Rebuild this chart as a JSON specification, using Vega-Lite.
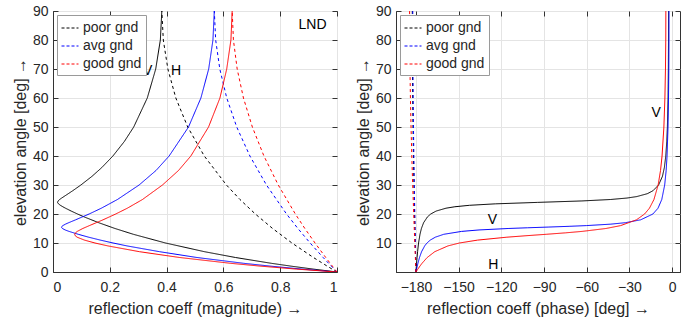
{
  "$schema": "https://vega.github.io/schema/vega-lite/v6.json",
  "background": "white",
  "padding": {"left": 11, "top": 3, "right": 17, "bottom": 0},
  "bounds": "flush",
  "spacing": 59,
  "config": {
    "font": "Liberation Sans, DejaVu Sans",
    "view": {"stroke": "#333333", "strokeWidth": 1},
    "axis": {
      "domainColor": "#333333", "tickColor": "#333333", "tickSize": -5, "tickWidth": 1,
      "gridColor": "#e4e4e4", "gridWidth": 1,
      "labelColor": "#262626", "titleColor": "#262626",
      "labelFontSize": 14, "titleFontSize": 16, "titleFontWeight": "normal",
      "labelPadding": 10, "titlePadding": 4
    },
    "axisX": {"labelPadding": 13, "titlePadding": 6},
    "legend": {
      "orient": "top-left", "offset": 4, "padding": 4, "fillColor": "white", "strokeColor": "#9a9a9a",
      "symbolType": "stroke", "symbolDash": [3, 2], "symbolStrokeWidth": 1, "symbolSize": 289,
      "labelFontSize": 14, "labelColor": "#262626", "rowPadding": 2, "labelOffset": 4, "cornerRadius": 0
    },
    "text": {"font": "Liberation Sans"}
  },
  "datasets": {
    "c": [
      {"g":"poor gnd","o":"V","e":0,"m":1,"ph":-180},
      {"g":"poor gnd","o":"V","e":1,"m":0.9164,"ph":-179.85},
      {"g":"poor gnd","o":"V","e":2,"m":0.8395,"ph":-179.70},
      {"g":"poor gnd","o":"V","e":3,"m":0.7686,"ph":-179.54},
      {"g":"poor gnd","o":"V","e":5,"m":0.6424,"ph":-179.21},
      {"g":"poor gnd","o":"V","e":7,"m":0.5335,"ph":-178.84},
      {"g":"poor gnd","o":"V","e":10,"m":0.3961,"ph":-178.15},
      {"g":"poor gnd","o":"V","e":13,"m":0.2830,"ph":-177.15},
      {"g":"poor gnd","o":"V","e":15,"m":0.2183,"ph":-176.15},
      {"g":"poor gnd","o":"V","e":17,"m":0.1609,"ph":-174.61},
      {"g":"poor gnd","o":"V","e":19,"m":0.1097,"ph":-171.91},
      {"g":"poor gnd","o":"V","e":20,"m":0.0863,"ph":-169.60},
      {"g":"poor gnd","o":"V","e":21,"m":0.0643,"ph":-165.86},
      {"g":"poor gnd","o":"V","e":22,"m":0.0439,"ph":-158.89},
      {"g":"poor gnd","o":"V","e":22.5,"m":0.0345,"ph":-152.65},
      {"g":"poor gnd","o":"V","e":23,"m":0.0260,"ph":-142.37},
      {"g":"poor gnd","o":"V","e":23.5,"m":0.0193,"ph":-124.26},
      {"g":"poor gnd","o":"V","e":24,"m":0.0160,"ph":-94.75},
      {"g":"poor gnd","o":"V","e":24.5,"m":0.0179,"ph":-63.50},
      {"g":"poor gnd","o":"V","e":25,"m":0.0234,"ph":-43.23},
      {"g":"poor gnd","o":"V","e":25.5,"m":0.0305,"ph":-31.77},
      {"g":"poor gnd","o":"V","e":26,"m":0.0382,"ph":-24.95},
      {"g":"poor gnd","o":"V","e":27,"m":0.0538,"ph":-17.46},
      {"g":"poor gnd","o":"V","e":28,"m":0.0691,"ph":-13.54},
      {"g":"poor gnd","o":"V","e":30,"m":0.0982,"ph":-9.53},
      {"g":"poor gnd","o":"V","e":33,"m":0.1374,"ph":-6.83},
      {"g":"poor gnd","o":"V","e":36,"m":0.1717,"ph":-5.49},
      {"g":"poor gnd","o":"V","e":40,"m":0.2109,"ph":-4.49},
      {"g":"poor gnd","o":"V","e":45,"m":0.2512,"ph":-3.80},
      {"g":"poor gnd","o":"V","e":50,"m":0.2842,"ph":-3.36},
      {"g":"poor gnd","o":"V","e":60,"m":0.3320,"ph":-2.89},
      {"g":"poor gnd","o":"V","e":70,"m":0.3617,"ph":-2.68},
      {"g":"poor gnd","o":"V","e":80,"m":0.3780,"ph":-2.58},
      {"g":"poor gnd","o":"V","e":90,"m":0.3832,"ph":-2.55},
      {"g":"poor gnd","o":"H","e":0,"m":1,"ph":-180},
      {"g":"poor gnd","o":"H","e":2,"m":0.9658,"ph":-180.10},
      {"g":"poor gnd","o":"H","e":5,"m":0.9169,"ph":-180.25},
      {"g":"poor gnd","o":"H","e":10,"m":0.8413,"ph":-180.49},
      {"g":"poor gnd","o":"H","e":15,"m":0.7733,"ph":-180.73},
      {"g":"poor gnd","o":"H","e":20,"m":0.7124,"ph":-180.96},
      {"g":"poor gnd","o":"H","e":25,"m":0.6583,"ph":-181.18},
      {"g":"poor gnd","o":"H","e":30,"m":0.6107,"ph":-181.38},
      {"g":"poor gnd","o":"H","e":40,"m":0.5326,"ph":-181.74},
      {"g":"poor gnd","o":"H","e":50,"m":0.4743,"ph":-182.04},
      {"g":"poor gnd","o":"H","e":60,"m":0.4325,"ph":-182.26},
      {"g":"poor gnd","o":"H","e":70,"m":0.4045,"ph":-182.42},
      {"g":"poor gnd","o":"H","e":80,"m":0.3884,"ph":-182.52},
      {"g":"poor gnd","o":"H","e":90,"m":0.3832,"ph":-182.55},
      {"g":"avg gnd","o":"V","e":0,"m":1,"ph":-180},
      {"g":"avg gnd","o":"V","e":1,"m":0.8769,"ph":-179.55},
      {"g":"avg gnd","o":"V","e":2,"m":0.7680,"ph":-179.09},
      {"g":"avg gnd","o":"V","e":3,"m":0.6713,"ph":-178.60},
      {"g":"avg gnd","o":"V","e":5,"m":0.5067,"ph":-177.49},
      {"g":"avg gnd","o":"V","e":7,"m":0.3753,"ph":-176.03},
      {"g":"avg gnd","o":"V","e":9,"m":0.2604,"ph":-173.85},
      {"g":"avg gnd","o":"V","e":10,"m":0.2115,"ph":-172.23},
      {"g":"avg gnd","o":"V","e":11,"m":0.1667,"ph":-169.93},
      {"g":"avg gnd","o":"V","e":12,"m":0.1256,"ph":-166.41},
      {"g":"avg gnd","o":"V","e":13,"m":0.0890,"ph":-160.45},
      {"g":"avg gnd","o":"V","e":14,"m":0.0564,"ph":-147.91},
      {"g":"avg gnd","o":"V","e":14.5,"m":0.0428,"ph":-135.66},
      {"g":"avg gnd","o":"V","e":15,"m":0.0332,"ph":-115.27},
      {"g":"avg gnd","o":"V","e":15.25,"m":0.0307,"ph":-101.58},
      {"g":"avg gnd","o":"V","e":15.5,"m":0.0301,"ph":-86.67},
      {"g":"avg gnd","o":"V","e":15.75,"m":0.0315,"ph":-72.42},
      {"g":"avg gnd","o":"V","e":16,"m":0.0346,"ph":-60.29},
      {"g":"avg gnd","o":"V","e":16.5,"m":0.0439,"ph":-43.15},
      {"g":"avg gnd","o":"V","e":17,"m":0.0553,"ph":-32.90},
      {"g":"avg gnd","o":"V","e":18,"m":0.0797,"ph":-22.09},
      {"g":"avg gnd","o":"V","e":20,"m":0.1272,"ph":-13.52},
      {"g":"avg gnd","o":"V","e":22,"m":0.1703,"ph":-9.94},
      {"g":"avg gnd","o":"V","e":25,"m":0.2269,"ph":-7.30},
      {"g":"avg gnd","o":"V","e":30,"m":0.3032,"ph":-5.26},
      {"g":"avg gnd","o":"V","e":35,"m":0.3627,"ph":-4.23},
      {"g":"avg gnd","o":"V","e":40,"m":0.4089,"ph":-3.61},
      {"g":"avg gnd","o":"V","e":50,"m":0.4772,"ph":-2.92},
      {"g":"avg gnd","o":"V","e":60,"m":0.5208,"ph":-2.56},
      {"g":"avg gnd","o":"V","e":70,"m":0.5482,"ph":-2.36},
      {"g":"avg gnd","o":"V","e":80,"m":0.5632,"ph":-2.26},
      {"g":"avg gnd","o":"V","e":90,"m":0.5680,"ph":-2.23},
      {"g":"avg gnd","o":"H","e":0,"m":1,"ph":-180},
      {"g":"avg gnd","o":"H","e":1,"m":0.9901,"ph":-180.04},
      {"g":"avg gnd","o":"H","e":2,"m":0.9802,"ph":-180.08},
      {"g":"avg gnd","o":"H","e":5,"m":0.9512,"ph":-180.20},
      {"g":"avg gnd","o":"H","e":10,"m":0.9053,"ph":-180.40},
      {"g":"avg gnd","o":"H","e":15,"m":0.8623,"ph":-180.60},
      {"g":"avg gnd","o":"H","e":20,"m":0.8223,"ph":-180.79},
      {"g":"avg gnd","o":"H","e":30,"m":0.7516,"ph":-181.15},
      {"g":"avg gnd","o":"H","e":40,"m":0.6933,"ph":-181.46},
      {"g":"avg gnd","o":"H","e":50,"m":0.6469,"ph":-181.73},
      {"g":"avg gnd","o":"H","e":60,"m":0.6118,"ph":-181.95},
      {"g":"avg gnd","o":"H","e":70,"m":0.5873,"ph":-182.10},
      {"g":"avg gnd","o":"H","e":80,"m":0.5728,"ph":-182.19},
      {"g":"avg gnd","o":"H","e":90,"m":0.5680,"ph":-182.22},
      {"g":"good gnd","o":"V","e":0,"m":1,"ph":-180},
      {"g":"good gnd","o":"V","e":1,"m":0.8569,"ph":-178.64},
      {"g":"good gnd","o":"V","e":2,"m":0.7330,"ph":-177.23},
      {"g":"good gnd","o":"V","e":3,"m":0.6249,"ph":-175.71},
      {"g":"good gnd","o":"V","e":5,"m":0.4458,"ph":-172.08},
      {"g":"good gnd","o":"V","e":7,"m":0.3046,"ph":-166.79},
      {"g":"good gnd","o":"V","e":9,"m":0.1931,"ph":-157.50},
      {"g":"good gnd","o":"V","e":10,"m":0.1477,"ph":-149.45},
      {"g":"good gnd","o":"V","e":11,"m":0.1106,"ph":-136.68},
      {"g":"good gnd","o":"V","e":12,"m":0.0850,"ph":-116.19},
      {"g":"good gnd","o":"V","e":12.5,"m":0.0784,"ph":-102.82},
      {"g":"good gnd","o":"V","e":13,"m":0.0765,"ph":-88.53},
      {"g":"good gnd","o":"V","e":13.5,"m":0.0791,"ph":-74.95},
      {"g":"good gnd","o":"V","e":14,"m":0.0855,"ph":-63.29},
      {"g":"good gnd","o":"V","e":15,"m":0.1048,"ph":-46.53},
      {"g":"good gnd","o":"V","e":16,"m":0.1282,"ph":-36.20},
      {"g":"good gnd","o":"V","e":18,"m":0.1763,"ph":-25.07},
      {"g":"good gnd","o":"V","e":20,"m":0.2209,"ph":-19.38},
      {"g":"good gnd","o":"V","e":22,"m":0.2618,"ph":-15.96},
      {"g":"good gnd","o":"V","e":25,"m":0.3151,"ph":-12.80},
      {"g":"good gnd","o":"V","e":30,"m":0.3854,"ph":-9.86},
      {"g":"good gnd","o":"V","e":35,"m":0.4419,"ph":-8.18},
      {"g":"good gnd","o":"V","e":40,"m":0.4854,"ph":-7.11},
      {"g":"good gnd","o":"V","e":50,"m":0.5477,"ph":-5.82},
      {"g":"good gnd","o":"V","e":60,"m":0.5878,"ph":-5.11},
      {"g":"good gnd","o":"V","e":70,"m":0.6117,"ph":-4.71},
      {"g":"good gnd","o":"V","e":80,"m":0.6265,"ph":-4.50},
      {"g":"good gnd","o":"V","e":90,"m":0.6309,"ph":-4.44},
      {"g":"good gnd","o":"H","e":0,"m":1,"ph":-180},
      {"g":"good gnd","o":"H","e":1,"m":0.9919,"ph":-180.08},
      {"g":"good gnd","o":"H","e":2,"m":0.9839,"ph":-180.16},
      {"g":"good gnd","o":"H","e":5,"m":0.9604,"ph":-180.40},
      {"g":"good gnd","o":"H","e":10,"m":0.9226,"ph":-180.79},
      {"g":"good gnd","o":"H","e":15,"m":0.8868,"ph":-181.18},
      {"g":"good gnd","o":"H","e":20,"m":0.8533,"ph":-181.55},
      {"g":"good gnd","o":"H","e":30,"m":0.7932,"ph":-182.26},
      {"g":"good gnd","o":"H","e":40,"m":0.7427,"ph":-182.90},
      {"g":"good gnd","o":"H","e":50,"m":0.7019,"ph":-183.44},
      {"g":"good gnd","o":"H","e":60,"m":0.6706,"ph":-183.87},
      {"g":"good gnd","o":"H","e":70,"m":0.6485,"ph":-184.18},
      {"g":"good gnd","o":"H","e":80,"m":0.6353,"ph":-184.37},
      {"g":"good gnd","o":"H","e":90,"m":0.6309,"ph":-184.44}
    ],
    "lm": [
      {"x": 0.3335, "y": 69.2, "t": "V"},
      {"x": 0.4335, "y": 69.2, "t": "H"},
      {"x": 0.914, "y": 85.3, "t": "LND"}
    ],
    "lp": [
      {"x": -11.3, "y": 54.7, "t": "V"},
      {"x": -126.2, "y": 17.9, "t": "V"},
      {"x": -125.7, "y": 2.5, "t": "H"}
    ]
  },
  "resolve": {"scale": {"color": "independent", "strokeDash": "independent"}, "legend": {"color": "independent"}},
  "hconcat": [
    {
      "width": 284,
      "height": 261,
      "resolve": {"axis": {"x": "independent", "y": "independent"}},
      "layer": [
        {
          "data": {"name": "c"},
          "mark": {"type": "line", "strokeWidth": 1, "clip": true},
          "encoding": {
            "x": {"field": "m", "type": "quantitative", "scale": {"domain": [0, 1], "nice": false},
              "axis": {"values": [0, 0.2, 0.4, 0.6, 0.8, 1], "format": "~g", "title": "reflection coeff (magnitude) →"}},
            "y": {"field": "e", "type": "quantitative", "scale": {"domain": [0, 90], "nice": false},
              "axis": {"values": [0, 10, 20, 30, 40, 50, 60, 70, 80, 90], "title": "elevation angle [deg] →"}},
            "color": {"field": "g", "type": "nominal", "sort": null,
              "scale": {"domain": ["poor gnd", "avg gnd", "good gnd"], "range": ["#000000", "#0000ff", "#ff0000"]},
              "legend": {"title": null}},
            "strokeDash": {"field": "o", "type": "nominal", "scale": {"domain": ["V", "H"], "range": [[1, 0], [3, 3]]}, "legend": null},
            "order": {"field": "e", "type": "quantitative"}
          }
        },
        {
          "data": {"name": "lm"},
          "mark": {"type": "text", "fontSize": 14, "color": "#000000", "baseline": "middle", "align": "center"},
          "encoding": {
            "x": {"field": "x", "type": "quantitative",
              "axis": {"orient": "top", "values": [0, 0.2, 0.4, 0.6, 0.8, 1], "labels": false, "grid": false, "domain": false, "title": null}},
            "y": {"field": "y", "type": "quantitative",
              "axis": {"orient": "right", "values": [0, 10, 20, 30, 40, 50, 60, 70, 80, 90], "labels": false, "grid": false, "domain": false, "title": null}},
            "text": {"field": "t"}
          }
        }
      ]
    },
    {
      "width": 284,
      "height": 261,
      "resolve": {"axis": {"x": "independent", "y": "independent"}},
      "layer": [
        {
          "data": {"name": "c"},
          "mark": {"type": "line", "strokeWidth": 1, "clip": true},
          "encoding": {
            "x": {"field": "ph", "type": "quantitative", "scale": {"domain": [-194, 5.5], "nice": false, "zero": false},
              "axis": {"values": [-180, -150, -120, -90, -60, -30, 0], "title": "reflection coeff (phase) [deg] →"}},
            "y": {"field": "e", "type": "quantitative", "scale": {"domain": [0, 90], "nice": false},
              "axis": {"values": [10, 20, 30, 40, 50, 60, 70, 80, 90], "title": "elevation angle [deg] →"}},
            "color": {"field": "g", "type": "nominal", "sort": null,
              "scale": {"domain": ["poor gnd", "avg gnd", "good gnd"], "range": ["#000000", "#0000ff", "#ff0000"]},
              "legend": {"title": null}},
            "strokeDash": {"field": "o", "type": "nominal", "scale": {"domain": ["V", "H"], "range": [[1, 0], [3, 3]]}, "legend": null},
            "order": {"field": "e", "type": "quantitative"}
          }
        },
        {
          "data": {"name": "lp"},
          "mark": {"type": "text", "fontSize": 14, "color": "#000000", "baseline": "middle", "align": "center"},
          "encoding": {
            "x": {"field": "x", "type": "quantitative",
              "axis": {"orient": "top", "values": [-180, -150, -120, -90, -60, -30, 0], "labels": false, "grid": false, "domain": false, "title": null}},
            "y": {"field": "y", "type": "quantitative",
              "axis": {"orient": "right", "values": [10, 20, 30, 40, 50, 60, 70, 80, 90], "labels": false, "grid": false, "domain": false, "title": null}},
            "text": {"field": "t"}
          }
        }
      ]
    }
  ]
}
